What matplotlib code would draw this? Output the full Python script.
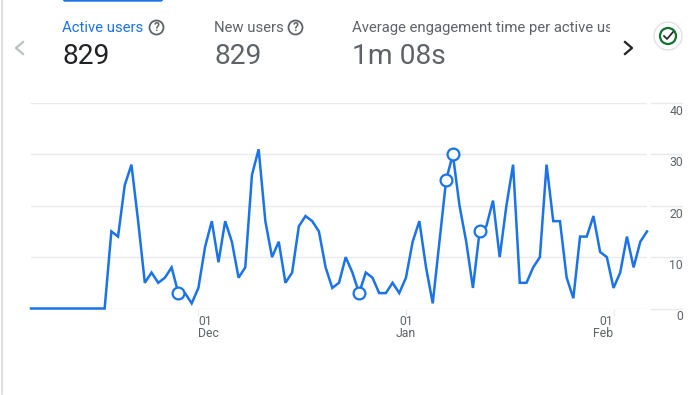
import pandas as pd
import matplotlib
matplotlib.use('Agg')
import matplotlib.pyplot as plt
from matplotlib.patches import Circle, FancyBboxPatch, Rectangle
from matplotlib.lines import Line2D

W, H = 700, 395

active_users = [0, 0, 0, 0, 0, 0, 0, 0, 0, 0, 0, 0,
                15, 14, 24, 28, 17, 5, 7, 5, 6, 8, 3, 3, 1,
                4, 12, 17, 9, 17, 13, 6, 8, 26, 31, 17, 10, 13, 5, 7,
                16, 18, 17, 15, 8, 4, 5, 10, 7, 3, 7, 6, 3, 3, 5, 3,
                6, 13, 17, 8, 1, 13, 25, 30, 20, 13, 4, 15, 16, 21, 10, 20,
                28, 5, 5, 8, 10, 28, 17, 17, 6, 2, 14, 14, 18, 11, 10,
                4, 7, 14, 8, 13, 15]
start_date = '2023-11-06'
marked_days = [22, 49, 62, 63, 67]
y_ticks = [0, 10, 20, 30, 40]
date_ticks = ['2023-12-01', '2024-01-01', '2024-02-01']
date_labels = ['01\nDec', '01\nJan', '01\nFeb']
date_aligns = ['left', 'center', 'right']
metric_names = ['Active users', 'New users', 'Average engagement time per active users']
metric_values = ['829', '829', '1m 08s']

BLUE = '#1a73e8'
GREY = '#5f6368'
GRID = '#e8eaed'

plt.rcParams['font.family'] = ['Roboto', 'DejaVu Sans']

fig = plt.figure(figsize=(W / 100, H / 100), dpi=100)

# fondo en pixeles para las cabeceras y botones
bg = fig.add_axes([0, 0, 1, 1])
bg.set_xlim(0, W)
bg.set_ylim(H, 0)
bg.axis('off')

# chart
ax = fig.add_axes([31 / W, 1 - 308.5 / H, (647 - 31) / W, (308.5 - 103) / H])
dates = pd.date_range(start_date, periods=len(active_users))
ax.plot(dates, active_users, color=BLUE, lw=1.8, solid_joinstyle='miter', zorder=3, clip_on=False)
ax.plot(dates[marked_days], [active_users[i] for i in marked_days], 'o', ms=8.5, mfc='white',
        mec=BLUE, mew=1.6, zorder=4, clip_on=False)
ax.set_xlim(dates[0], dates[-1])
ax.set_ylim(0, 40)
ax.set_yticks(y_ticks)
ax.set_xticks(pd.to_datetime(date_ticks))
ax.set_xticklabels(date_labels, fontsize=8.8, color=GREY, linespacing=0.9)
for lab, al in zip(ax.get_xticklabels(), date_aligns):
    lab.set_ha(al)
    lab.set_multialignment(al)
ax.set_yticklabels([])
ax.tick_params(axis='y', length=0)
ax.tick_params(axis='x', length=5, width=0.8, color=GRID, pad=-0.4)
ax.grid(axis='y', color=GRID, lw=1)
for s in ax.spines.values():
    s.set_visible(False)
ax.set_axisbelow(True)

# right axis: short lines after the gap, label under each one
for v in y_ticks:
    ax.plot([1 + 4 / 616, 1 + 35 / 616], [v, v], color=GRID, lw=1, clip_on=False,
            transform=ax.get_yaxis_transform())
    ax.annotate(str(v), (1, v), xycoords=('axes fraction', 'data'), xytext=(36, -8.5),
                textcoords='offset pixels', ha='right', va='center', fontsize=8.8, color=GREY,
                annotation_clip=False)

# metric headers, the long name is cut off by the card like in the original
clip = Rectangle((0, 0), 610, 70, transform=bg.transData)
for x, name, val, name_col, val_col in zip([62, 214, 352], metric_names, metric_values,
                                           [BLUE, GREY, GREY], ['#202124', GREY, GREY]):
    t = bg.text(x, 28, name, fontsize=10.7, color=name_col, va='center', ha='left')
    t.set_clip_path(clip)
    t.set_clip_on(True)
    bg.text(x, 57, val, fontsize=20.3, color=val_col, va='center', ha='left')

# help icons
for cx in [156.5, 295.5]:
    bg.add_patch(Circle((cx, 27.5), 7, fc='none', ec=GREY, lw=1.3))
    bg.text(cx, 27.5, '?', fontsize=8.5, color=GREY, ha='center', va='center', fontweight='bold')

# blue tab on top and left card border
bg.add_patch(FancyBboxPatch((63, -4), 100, 5.7, boxstyle='round,pad=0,rounding_size=2', fc=BLUE, ec='none'))
bg.add_line(Line2D([1.5, 1.5], [0, 394], color='#dadce0', lw=1.3))

# arrows
bg.add_line(Line2D([23, 16, 23], [42, 48, 54], color='#bdc1c6', lw=1.6))
bg.add_line(Line2D([625, 632, 625], [42, 48, 54], color='#202124', lw=1.6))

# check icon
bg.add_patch(Circle((668, 36), 14, fc='white', ec='#e3e3e3', lw=1))
bg.add_patch(Circle((668, 36), 8, fc='none', ec='#137333', lw=1.6))
bg.add_line(Line2D([664, 667, 673], [36, 39, 32], color='#202124', lw=1.2))

fig.savefig('out.png', dpi=100)
